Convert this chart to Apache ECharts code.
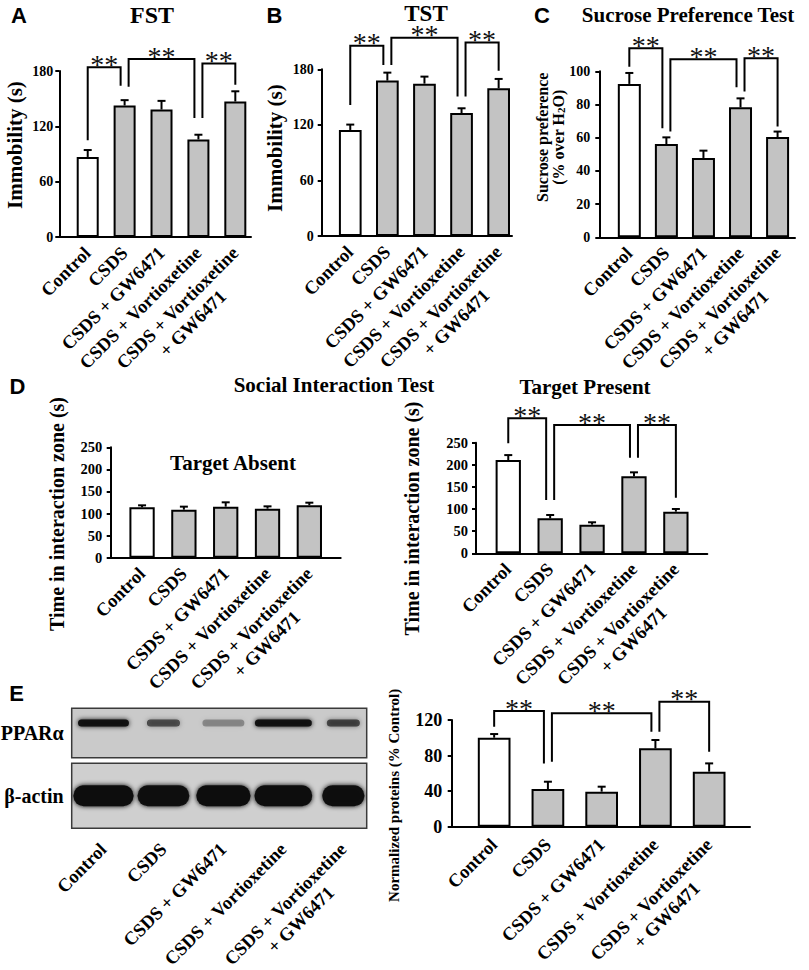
<!DOCTYPE html>
<html>
<head>
<meta charset="utf-8">
<script src="https://cdn.jsdelivr.net/npm/echarts@6/dist/echarts.min.js"></script>
<style>
html,body{margin:0;padding:0;background:#fff;}
#c{width:809px;height:970px;}
</style>
</head>
<body>
<div id="c"></div>
<script>
// ---------------- DATA ----------------
const categories = ['Control', 'CSDS', 'CSDS + GW6471', 'CSDS + Vortioxetine', 'CSDS + Vortioxetine\n+ GW6471'];
const groups = [0, 1, 2, 3, 4];

// A: Forced swim test (immobility, s)
const fstMean = [86.8, 142.6, 138.2, 105.8, 146.9];
const fstSem  = [7.5, 5.8, 9.4, 5.1, 11.1];
const fstTicks = [0, 60, 120, 180];
// significance brackets: [groupFrom, groupTo, topValue, fromEndValue, toEndValue]
const fstSig = [[0, 1, 184, 105, 164], [1, 3, 193, 163, 129], [3, 4, 188, 129, 165]];

// B: Tail suspension test (immobility, s)
const tstMean = [114.5, 167.8, 164.5, 132.8, 159.5];
const tstSem  = [5.8, 8.6, 7.6, 5.1, 10.1];
const tstTicks = [0, 60, 120, 180];
const tstSig = [[0, 1, 205.5, 141.5, 184.7], [1, 3, 214.2, 184.7, 150.5], [3, 4, 209, 150.5, 178.5]];

// C: Sucrose preference (%)
const sptMean = [92.4, 56.2, 47.8, 78.3, 60.4];
const sptSem  = [6.6, 4.0, 4.4, 5.4, 3.3];
const sptTicks = [0, 20, 40, 60, 80, 100];
const sptSig = [[0, 1, 113.9, 102.8, 65.7], [1, 3, 107.2, 63.7, 90.4], [3, 4, 107.8, 87.8, 66.7]];

// D: Social interaction (time in interaction zone, s)
const absentMean = [114.0, 108.8, 115.6, 111.0, 118.6];
const absentSem  = [4.6, 6.8, 9.8, 5.3, 6.0];
const presentMean = [210.8, 79.0, 64.8, 174.0, 94.1];
const presentSem  = [11.2, 7.6, 5.3, 9.0, 6.1];
const siTicks = [0, 50, 100, 150, 200, 250];
const absentSig = [];
const presentSig = [[0, 1, 305, 248.5, 120.5], [1, 3, 290, 120.5, 216], [3, 4, 290, 216, 125.8]];

// E: PPARα normalized protein (% control)
const pparMean = [100.1, 42.4, 39.4, 88.1, 61.9];
const pparSem  = [4.1, 8.2, 5.6, 9.4, 9.3];
const pparTicks = [0, 40, 80, 120];
const pparSig = [[0, 1, 130.1, 112.5, 71.2], [1, 3, 127.5, 73.1, 106.9], [3, 4, 140.6, 106.9, 84.4]];

// E: western blot band densities (relative darkness, lane-width fraction)
const pparBandIntensity  = [0.95, 0.6, 0.3, 0.95, 0.65];
const pparBandSpread     = [0.85, 0.55, 0.7, 0.95, 0.55];
const actinBandIntensity = [1.0, 0.97, 1.0, 1.0, 0.98];
const actinBandSpread    = [1.0, 0.86, 0.9, 0.96, 0.7];

// ---------------- STYLE / LAYOUT ----------------
const SERIF = '"Liberation Serif", "Times New Roman", serif';
const SANS = '"Liberation Sans", Arial, sans-serif';
const CONTROL_FILL = '#ffffff';
const GROUP_FILL = '#c3c3c3';

const catFont = {fontFamily: SERIF, fontWeight: 'bold', fontSize: 18.5, color: '#000'};
const catRich = {
  e: Object.assign({lineHeight: 22}, catFont),
  a: Object.assign({lineHeight: 22}, catFont),
  b: Object.assign({lineHeight: 22, align: 'center'}, catFont)
};
const singleLineGroups = groups.filter(g => categories[g].indexOf('\n') < 0);
const multiLineGroups = groups.filter(g => categories[g].indexOf('\n') >= 0);
function catLabel(v) {
  const t = categories[Math.round(v)];
  if (t === undefined) return '';
  const lines = t.split('\n');
  if (lines.length === 1) return t;
  return '{e| }\n{a|' + lines[0] + '}\n{b|' + lines[1] + '}';
}
function catAxisLabel(margin, values) {
  return Object.assign({customValues: values, rotate: 45, margin: margin, formatter: catLabel,
    lineHeight: 22, rich: catRich, showMinLabel: true, showMaxLabel: true, hideOverlap: false}, catFont);
}

const sptName = '{a|Sucrose preference}\n{a|(% over H}{s|2}{a|O)}';
const sptNameRich = {
  a: {fontFamily: SERIF, fontWeight: 'bold', fontSize: 16, lineHeight: 16, color: '#000'},
  s: {fontFamily: SERIF, fontWeight: 'bold', fontSize: 11, lineHeight: 8, verticalAlign: 'bottom', color: '#000'}
};

const panels = [
  {mean: fstMean, sem: fstSem, ticks: fstTicks, sig: fstSig, yName: 'Immobility (s)',
   grid: {left: 59.3, top: 71, width: 191.7, height: 166}, xRange: [-0.77, 4.425], barWidth: 22,
   tickFont: 14, tickMargin: 6, nameFont: 21, nameGap: 34, namePad: [0, 0, 0, 18], labelMargin: 13},
  {mean: tstMean, sem: tstSem, ticks: tstTicks, sig: tstSig, yName: 'Immobility (s)',
   grid: {left: 321.7, top: 69.3, width: 190.3, height: 166.7}, xRange: [-0.77, 4.36], barWidth: 22.7,
   tickFont: 14, tickMargin: 8, nameFont: 21, nameGap: 36.5, namePad: [0, 0, 0, 9], labelMargin: 13},
  {mean: sptMean, sem: sptSem, ticks: sptTicks, sig: sptSig, yName: sptName, yNameRich: sptNameRich,
   grid: {left: 599.3, top: 71.3, width: 195.7, height: 166}, xRange: [-0.81, 4.47], barWidth: 23,
   tickFont: 14, tickMargin: 9, nameFont: 16, nameGap: 33, namePad: [0, 0, 0, 34], labelMargin: 13},
  {mean: absentMean, sem: absentSem, ticks: siTicks, sig: absentSig, yName: 'Time in interaction zone (s)',
   grid: {left: 110.7, top: 447.3, width: 230, height: 110.4}, xRange: [-0.75, 4.75], barWidth: 25.3,
   tickFont: 14.5, tickMargin: 8.5, nameFont: 20, nameGap: 44, namePad: [0, 23, 0, 0], labelMargin: 13},
  {mean: presentMean, sem: presentSem, ticks: siTicks, sig: presentSig, yName: 'Time in interaction zone (s)',
   grid: {left: 476, top: 442.7, width: 231.3, height: 110.6}, xRange: [-0.77, 4.75], barWidth: 25.3,
   tickFont: 14.5, tickMargin: 8, nameFont: 20, nameGap: 54, namePad: [0, 41, 0, 0], labelMargin: 13},
  {mean: pparMean, sem: pparSem, ticks: pparTicks, sig: pparSig, yName: 'Normalized proteins (% Control)',
   grid: {left: 451.7, top: 720, width: 298.3, height: 106.7}, xRange: [-0.79, 4.76], barWidth: 32.7,
   tickFont: 18, tickMargin: 9.5, nameFont: 15, nameGap: 50, namePad: [0, 44, 0, 0], labelMargin: 15}
];

// ---------------- RENDERERS ----------------
function errRender(params, api) {
  const x = api.value(0), m = api.value(1), s = api.value(2);
  const a = api.coord([x, m]), b = api.coord([x, m + s]);
  return {type: 'group', children: [
    {type: 'line', shape: {x1: a[0], y1: a[1], x2: b[0], y2: b[1]}, style: {stroke: '#000', lineWidth: 2}},
    {type: 'line', shape: {x1: b[0] - 4, y1: b[1], x2: b[0] + 4, y2: b[1]}, style: {stroke: '#000', lineWidth: 2}}
  ]};
}
function sigRender(params, api) {
  const i = api.value(0), j = api.value(1), top = api.value(2), le = api.value(3), re = api.value(4);
  const dl = api.value(5), dr = api.value(6);
  const L = api.coord([i, le]), R = api.coord([j, re]), T = api.coord([i, top]);
  const xl = L[0] + dl, xr = R[0] + dr;
  return {type: 'group', children: [
    {type: 'polyline', shape: {points: [[xl, L[1]], [xl, T[1]], [xr, T[1]], [xr, R[1]]]},
     style: {stroke: '#000', lineWidth: 2, fill: null}},
    {type: 'text', x: (xl + xr) / 2, y: T[1] - 3,
     style: {text: '**', fontSize: 28, lineHeight: 12, fontFamily: SERIF, fill: '#111', align: 'center', verticalAlign: 'middle'}}
  ]};
}
function bandRender(rowFrac, heightPx, radius) {
  return function (params, api) {
    const lane = api.value(0), inten = api.value(1), spread = api.value(2);
    const c = api.coord([lane, rowFrac]);
    const pitch = api.size([1, 0])[0];
    const w = pitch * spread;
    const col = 'rgba(12,12,12,' + inten + ')';
    return {type: 'rect', shape: {x: c[0] - w / 2, y: c[1] - heightPx / 2, width: w, height: heightPx, r: radius},
      style: {fill: col, shadowBlur: 5, shadowColor: col}};
  };
}
function sharedEnds(sig) {
  const count = {};
  sig.forEach(s => { count[s[0]] = (count[s[0]] || 0) + 1; count[s[1]] = (count[s[1]] || 0) + 1; });
  return sig.map(s => s.concat([count[s[0]] > 1 ? 4 : 0, count[s[1]] > 1 ? -4 : 0]));
}

// ---------------- OPTION ----------------
const grids = [], xAxes = [], yAxes = [], series = [], labelAxes = [];
function addLabelAxis(gridIndex, range, margin) {
  // extra bottom axis (no line) carrying the two-line category label
  labelAxes.push({
    gridIndex: gridIndex, type: 'value', position: 'bottom', min: range[0], max: range[1],
    axisLine: {show: false}, axisTick: {show: false}, splitLine: {show: false},
    axisLabel: catAxisLabel(margin, multiLineGroups)
  });
}
panels.forEach((p, k) => {
  grids.push(Object.assign({show: false, containLabel: false, outerBoundsMode: 'none'}, p.grid));
  xAxes.push({
    gridIndex: k, type: 'value', position: 'bottom', min: p.xRange[0], max: p.xRange[1],
    axisLine: {show: true, onZero: false, lineStyle: {color: '#000', width: 2}},
    axisTick: {show: false}, splitLine: {show: false},
    axisLabel: catAxisLabel(p.labelMargin, singleLineGroups)
  });
  addLabelAxis(k, p.xRange, p.labelMargin);
  yAxes.push({
    gridIndex: k, type: 'value', min: p.ticks[0], max: p.ticks[p.ticks.length - 1], interval: p.ticks[1] - p.ticks[0],
    axisLine: {show: true, onZero: false, lineStyle: {color: '#000', width: 2}},
    axisTick: {show: true, length: 4, lineStyle: {color: '#000', width: 2}},
    splitLine: {show: false},
    axisLabel: {fontFamily: SERIF, fontWeight: 'bold', fontSize: p.tickFont, color: '#000', margin: p.tickMargin},
    name: p.yName, nameLocation: 'middle', nameRotate: 90, nameGap: p.nameGap, nameMoveOverlap: false,
    nameTextStyle: Object.assign({fontFamily: SERIF, fontWeight: 'bold', fontSize: p.nameFont, color: '#000', padding: p.namePad},
      p.yNameRich ? {rich: p.yNameRich, lineHeight: 16} : {})
  });
  series.push({
    type: 'bar', xAxisIndex: k, yAxisIndex: k, barWidth: p.barWidth, silent: true,
    data: groups.map((g, i) => [g, p.mean[i]]),
    itemStyle: {color: prm => prm.dataIndex === 0 ? CONTROL_FILL : GROUP_FILL, borderColor: '#000', borderWidth: 2}
  });
  series.push({
    type: 'custom', xAxisIndex: k, yAxisIndex: k, clip: false, z: 5, silent: true,
    data: groups.map((g, i) => [g, p.mean[i], p.sem[i]]), renderItem: errRender
  });
  if (p.sig.length) {
    series.push({
      type: 'custom', xAxisIndex: k, yAxisIndex: k, clip: false, z: 6, silent: true,
      data: sharedEnds(p.sig), renderItem: sigRender
    });
  }
});

// Western blot grids (PPARα row and β-actin row)
const blotRange = [-0.53, 4.39];
const blotRows = [
  {name: 'PPARα', grid: {left: 71.7, top: 708.3, width: 295, height: 49.4}, bg: '#cacaca',
   intensity: pparBandIntensity, spread: pparBandSpread, row: 0.70, h: 7, r: 3.5, labels: false},
  {name: 'β-actin', grid: {left: 71.7, top: 763.3, width: 295, height: 65}, bg: '#cfcfcf',
   intensity: actinBandIntensity, spread: actinBandSpread, row: 0.50, h: 21, r: 10, labels: true}
];
blotRows.forEach(b => {
  const k = grids.length;
  grids.push(Object.assign({show: true, backgroundColor: b.bg, borderColor: '#3a3a3a', borderWidth: 1.5,
    containLabel: false, outerBoundsMode: 'none'}, b.grid));
  xAxes.push({
    gridIndex: k, type: 'value', position: 'bottom', min: blotRange[0], max: blotRange[1],
    axisLine: {show: false}, axisTick: {show: false}, splitLine: {show: false},
    axisLabel: b.labels ? catAxisLabel(18, singleLineGroups) : {show: false}
  });
  if (b.labels) addLabelAxis(k, blotRange, 18);
  yAxes.push({
    gridIndex: k, type: 'value', min: 0, max: 1,
    axisLine: {show: false}, axisTick: {show: false}, splitLine: {show: false}, axisLabel: {show: false},
    name: b.name, nameLocation: 'middle', nameRotate: 0, nameGap: 8, nameMoveOverlap: false,
    nameTextStyle: {fontFamily: SERIF, fontWeight: 'bold', fontSize: 20, color: '#000'}
  });
  series.push({
    type: 'custom', xAxisIndex: k, yAxisIndex: k, clip: true, silent: true,
    data: groups.map((g, i) => [g, b.intensity[i], b.spread[i]]), renderItem: bandRender(b.row, b.h, b.r)
  });
});

const texts = [
  ['A', 19, 15, 22, SANS], ['B', 274.5, 15, 22, SANS], ['C', 542, 15, 22, SANS],
  ['D', 17.5, 386, 22, SANS], ['E', 16.5, 693.5, 22, SANS],
  ['FST', 152, 15, 24, SERIF], ['TST', 426, 13, 23, SERIF], ['Sucrose Preference Test', 688, 15, 21, SERIF],
  ['Social Interaction Test', 334, 385, 21, SERIF], ['Target Present', 585, 386.5, 21, SERIF],
  ['Target Absent', 233, 463, 21, SERIF]
];

const chart = echarts.init(document.getElementById('c'), null, {renderer: 'svg'});
chart.setOption({
  animation: false,
  backgroundColor: '#fff',
  grid: grids, xAxis: xAxes.concat(labelAxes), yAxis: yAxes, series: series,
  graphic: texts.map(t => ({type: 'text', x: t[1], y: t[2], silent: true,
    style: {text: t[0], fontSize: t[3], fontFamily: t[4], fontWeight: 'bold', fill: '#000',
      align: 'center', verticalAlign: 'middle'}}))
});
</script>
</body>
</html>
